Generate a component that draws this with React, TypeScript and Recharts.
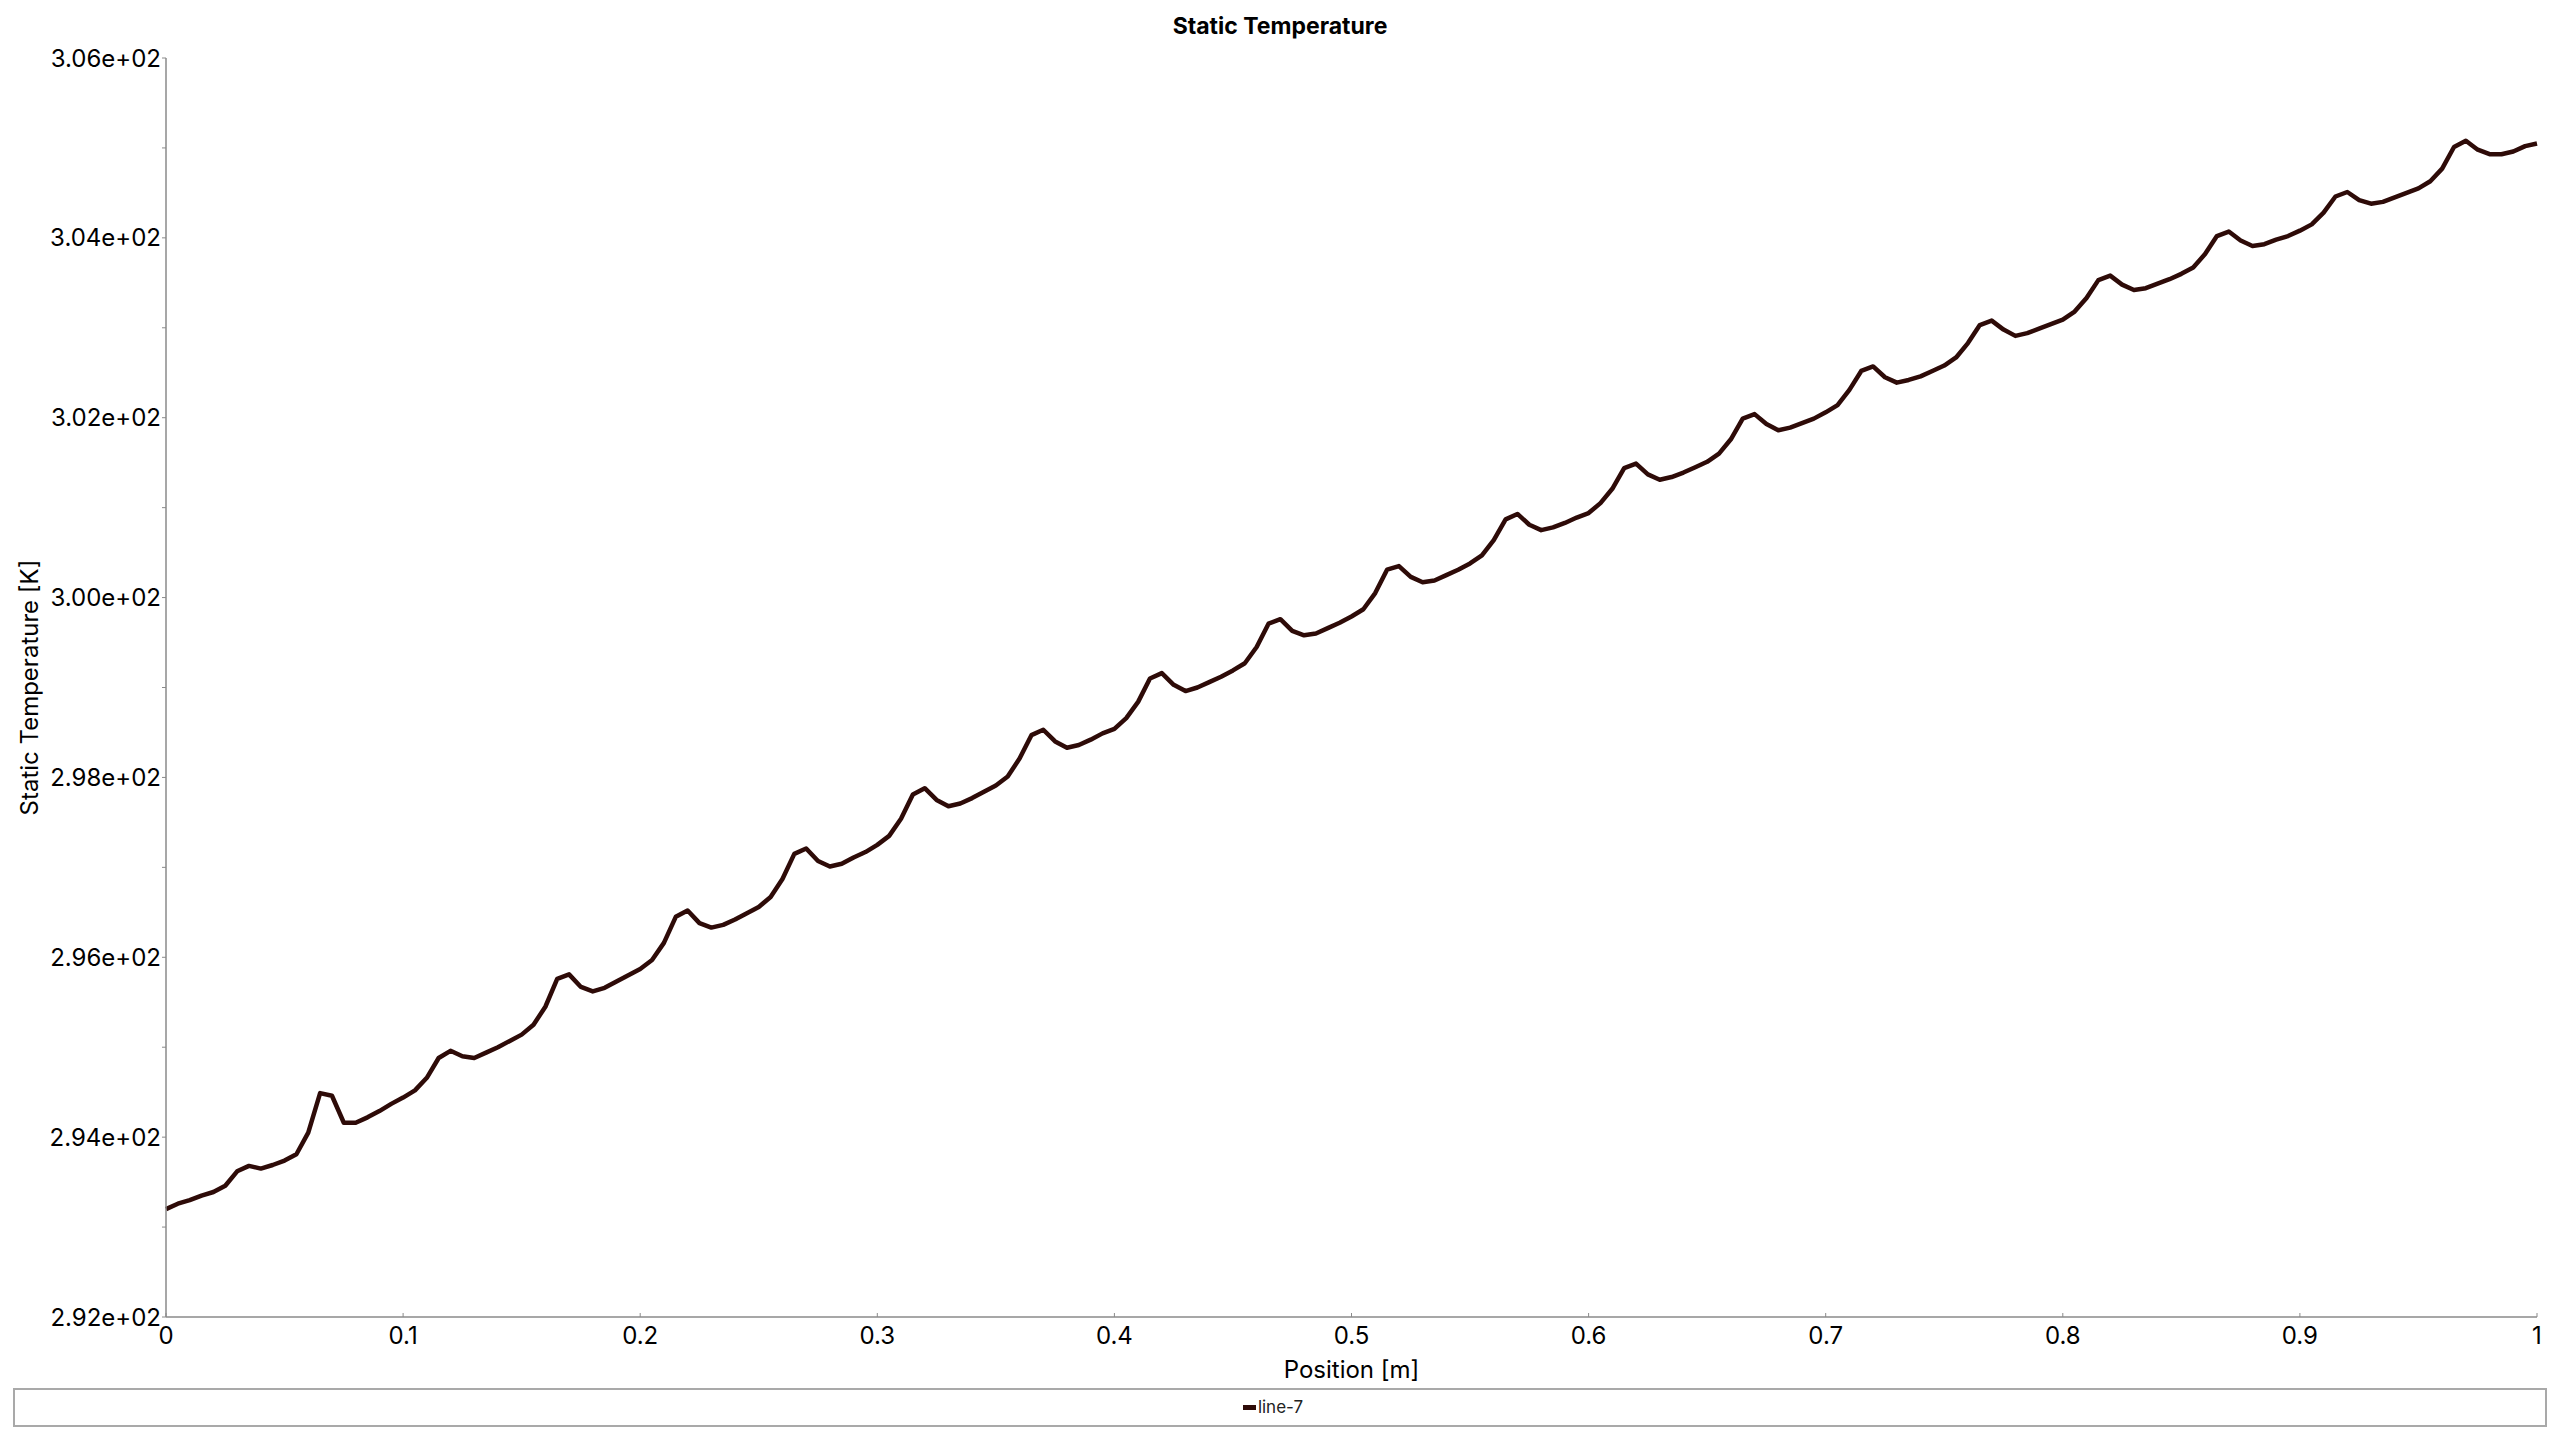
import React from 'react';
import { LineChart, Line, XAxis, YAxis, Legend } from 'recharts';

const positions: number[] = [
  0, 0.005, 0.01, 0.015, 0.02, 0.025, 0.03, 0.035, 0.04, 0.045,
  0.05, 0.055, 0.06, 0.065, 0.07, 0.075, 0.08, 0.085, 0.09, 0.095,
  0.1, 0.105, 0.11, 0.115, 0.12, 0.125, 0.13, 0.135, 0.14, 0.145,
  0.15, 0.155, 0.16, 0.165, 0.17, 0.175, 0.18, 0.185, 0.19, 0.195,
  0.2, 0.205, 0.21, 0.215, 0.22, 0.225, 0.23, 0.235, 0.24, 0.245,
  0.25, 0.255, 0.26, 0.265, 0.27, 0.275, 0.28, 0.285, 0.29, 0.295,
  0.3, 0.305, 0.31, 0.315, 0.32, 0.325, 0.33, 0.335, 0.34, 0.345,
  0.35, 0.355, 0.36, 0.365, 0.37, 0.375, 0.38, 0.385, 0.39, 0.395,
  0.4, 0.405, 0.41, 0.415, 0.42, 0.425, 0.43, 0.435, 0.44, 0.445,
  0.45, 0.455, 0.46, 0.465, 0.47, 0.475, 0.48, 0.485, 0.49, 0.495,
  0.5, 0.505, 0.51, 0.515, 0.52, 0.525, 0.53, 0.535, 0.54, 0.545,
  0.55, 0.555, 0.56, 0.565, 0.57, 0.575, 0.58, 0.585, 0.59, 0.595,
  0.6, 0.605, 0.61, 0.615, 0.62, 0.625, 0.63, 0.635, 0.64, 0.645,
  0.65, 0.655, 0.66, 0.665, 0.67, 0.675, 0.68, 0.685, 0.69, 0.695,
  0.7, 0.705, 0.71, 0.715, 0.72, 0.725, 0.73, 0.735, 0.74, 0.745,
  0.75, 0.755, 0.76, 0.765, 0.77, 0.775, 0.78, 0.785, 0.79, 0.795,
  0.8, 0.805, 0.81, 0.815, 0.82, 0.825, 0.83, 0.835, 0.84, 0.845,
  0.85, 0.855, 0.86, 0.865, 0.87, 0.875, 0.88, 0.885, 0.89, 0.895,
  0.9, 0.905, 0.91, 0.915, 0.92, 0.925, 0.93, 0.935, 0.94, 0.945,
  0.95, 0.955, 0.96, 0.965, 0.97, 0.975, 0.98, 0.985, 0.99, 0.995,
  1,
];

const temperatures: number[] = [
  293.20, 293.26, 293.30, 293.35, 293.39, 293.46, 293.62, 293.68, 293.65, 293.69,
  293.74, 293.81, 294.05, 294.49, 294.46, 294.16, 294.16, 294.22, 294.29, 294.37,
  294.44, 294.52, 294.66, 294.88, 294.96, 294.90, 294.88, 294.94, 295.00, 295.07,
  295.14, 295.25, 295.45, 295.76, 295.81, 295.67, 295.62, 295.66, 295.73, 295.80,
  295.87, 295.97, 296.16, 296.45, 296.52, 296.38, 296.33, 296.36, 296.42, 296.49,
  296.56, 296.67, 296.87, 297.15, 297.21, 297.07, 297.01, 297.04, 297.11, 297.17,
  297.25, 297.35, 297.54, 297.81, 297.88, 297.75, 297.68, 297.71, 297.77, 297.84,
  297.91, 298.01, 298.21, 298.47, 298.53, 298.40, 298.33, 298.36, 298.42, 298.49,
  298.54, 298.66, 298.84, 299.10, 299.16, 299.03, 298.96, 299.00, 299.06, 299.12,
  299.19, 299.27, 299.45, 299.71, 299.76, 299.63, 299.58, 299.60, 299.66, 299.72,
  299.79, 299.87, 300.05, 300.31, 300.35, 300.23, 300.17, 300.19, 300.25, 300.31,
  300.38, 300.47, 300.64, 300.87, 300.93, 300.81, 300.75, 300.78, 300.83, 300.89,
  300.94, 301.05, 301.21, 301.44, 301.49, 301.37, 301.31, 301.34, 301.39, 301.45,
  301.51, 301.60, 301.76, 301.99, 302.04, 301.93, 301.86, 301.89, 301.94, 301.99,
  302.06, 302.14, 302.31, 302.52, 302.57, 302.45, 302.39, 302.42, 302.46, 302.52,
  302.58, 302.67, 302.83, 303.03, 303.08, 302.98, 302.91, 302.94, 302.99, 303.04,
  303.09, 303.18, 303.33, 303.53, 303.58, 303.48, 303.42, 303.44, 303.49, 303.54,
  303.60, 303.67, 303.82, 304.02, 304.07, 303.97, 303.91, 303.93, 303.98, 304.02,
  304.08, 304.15, 304.28, 304.46, 304.51, 304.42, 304.38, 304.40, 304.45, 304.50,
  304.55, 304.63, 304.77, 305.01, 305.08, 304.98, 304.93, 304.93, 304.96, 305.02,
  305.05,
];

const xTicks: number[] = [0, 0.1, 0.2, 0.3, 0.4, 0.5, 0.6, 0.7, 0.8, 0.9, 1];
const yTicks: number[] = [292, 293, 294, 295, 296, 297, 298, 299, 300, 301, 302, 303, 304, 305, 306];
const yLabelled: number[] = [292, 294, 296, 298, 300, 302, 304, 306];

const seriesName = 'line-7';
const chartTitle = 'Static Temperature';
const xTitle = 'Position [m]';
const yTitle = 'Static Temperature [K]';

const LINE_COLOR = '#2e0b08';
const FONT = 'Inter, "Open Sans", sans-serif';

const data = positions.map((p, i) => ({ x: p, t: temperatures[i] }));

const fmtY = (v: number) => {
  if (!yLabelled.includes(v)) return '';
  const s = v.toExponential(2);
  return s.replace(/e\+(\d)$/, 'e+0$1');
};

const LegendContent = () => (
  <div
    style={{
      width: '100%',
      height: '100%',
      display: 'flex',
      alignItems: 'center',
      justifyContent: 'center',
      paddingRight: 14,
      boxSizing: 'border-box',
      fontFamily: FONT,
    }}
  >
    <span style={{ display: 'inline-block', width: 13, height: 5, background: LINE_COLOR, marginRight: 2 }} />
    <span style={{ fontSize: 17, color: '#222', lineHeight: '17px' }}>{seriesName}</span>
  </div>
);

export default function App() {
  return (
    <div style={{ position: 'absolute', left: 0, top: 0, width: 2560, height: 1440, background: '#fff', fontFamily: FONT }}>
      <div
        style={{
          position: 'absolute',
          left: 0,
          top: 12,
          width: 2560,
          textAlign: 'center',
          fontSize: 23,
          fontWeight: 700,
          color: '#000',
          lineHeight: '28px',
          zIndex: 2,
        }}
      >
        {chartTitle}
      </div>
      <LineChart
        width={2560}
        height={1440}
        data={data}
        margin={{ top: 58, right: 23, left: 0, bottom: 13 }}
      >
        <XAxis
          dataKey="x"
          type="number"
          domain={[0, 1]}
          ticks={xTicks}
          height={71}
          axisLine={{ stroke: '#8a8a8a', strokeWidth: 1.5 }}
          tickLine={{ stroke: '#8a8a8a' }}
          tickSize={-4}
          tickMargin={14}
          tick={{ fill: '#000', fontSize: 24, fontFamily: FONT }}
          interval={0}
          label={{ value: xTitle, position: 'insideBottom', offset: 10, fill: '#000', fontSize: 24, fontFamily: FONT }}
        />
        <YAxis
          type="number"
          domain={[292, 306]}
          ticks={yTicks}
          width={166}
          axisLine={{ stroke: '#8a8a8a', strokeWidth: 1.5 }}
          tickLine={{ stroke: '#8a8a8a' }}
          tickSize={4}
          tickMargin={1}
          interval={0}
          tickFormatter={fmtY}
          tick={{ fill: '#000', fontSize: 24, fontFamily: FONT }}
          label={{
            value: yTitle,
            angle: -90,
            position: 'insideLeft',
            offset: 29,
            fill: '#000',
            fontSize: 24,
            fontFamily: FONT,
            style: { textAnchor: 'middle' },
          }}
        />
        <Legend
          verticalAlign="bottom"
          content={<LegendContent />}
          wrapperStyle={{
            left: 13,
            width: 2534,
            height: 39,
            border: '2px solid #a9a9a9',
            boxSizing: 'border-box',
            background: '#fff',
          }}
        />
        <Line
          type="linear"
          dataKey="t"
          name={seriesName}
          stroke={LINE_COLOR}
          strokeWidth={4.5}
          strokeLinejoin="round"
          dot={false}
          activeDot={false}
          isAnimationActive={false}
        />
      </LineChart>
    </div>
  );
}
